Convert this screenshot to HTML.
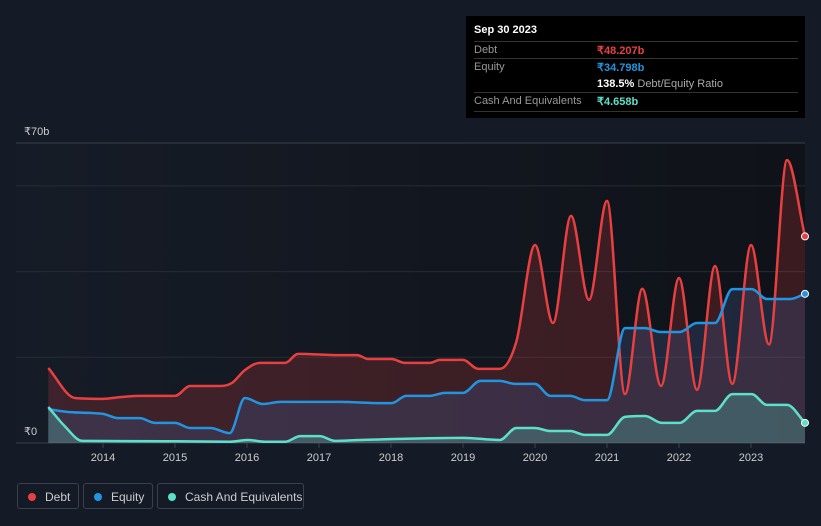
<!DOCTYPE html>
<html><head><meta charset="utf-8"><style>
body{margin:0;width:821px;height:526px;background:#151b26;font-family:"Liberation Sans",sans-serif;overflow:hidden;position:relative}
#tip{position:absolute;left:466px;top:16px;width:339px;height:102px;background:#000;color:#fff;font-size:11px}
.row{position:absolute;left:8px;width:324px;border-top:1px solid #333}
.lbl{position:absolute;left:0;color:#999}
.val{position:absolute;left:123px;font-weight:bold}
.leg{position:absolute;top:483px;height:26px;border:1px solid #3a404c;border-radius:3px;color:#ccc;font-size:12px;line-height:26px;box-sizing:border-box}
.dot{position:absolute;left:10px;top:9px;width:8px;height:8px;border-radius:50%}
</style></head><body>
<svg id="chart" width="821" height="526" style="position:absolute;left:0;top:0">
<defs>
<linearGradient id="bg" x1="0" x2="1" y1="0" y2="0"><stop offset="0" stop-color="#161c27"/><stop offset="1" stop-color="#0f1218"/></linearGradient>
</defs>
<rect x="16" y="143" width="789" height="300" fill="url(#bg)"/>
<g id="grid"></g><g id="areas"></g><g id="lines"></g><g id="axis"></g>
</svg>
<div id="tip">
<div style="position:absolute;left:8px;top:8px;font-weight:bold;font-size:11px">Sep 30 2023</div>
<div class="row" style="top:25px;height:17px"><span class="lbl" style="top:2px">Debt</span><span class="val" style="top:2px;color:#e84040">₹48.207b</span></div>
<div class="row" style="top:42px;height:34px"><span class="lbl" style="top:2px">Equity</span><span class="val" style="top:2px;color:#2394df">₹34.798b</span><span class="val" style="top:19px"><b>138.5%</b> <span style="color:#aaa;font-weight:normal">Debt/Equity Ratio</span></span></div>
<div class="row" style="top:76px;height:18px;border-bottom:1px solid #333"><span class="lbl" style="top:2px">Cash And Equivalents</span><span class="val" style="top:2px;color:#5de0c8">₹4.658b</span></div>
</div>
<div class="leg" style="left:17px;width:62px"><span class="dot" style="background:#e84040"></span><span style="position:absolute;left:27px">Debt</span></div>
<div class="leg" style="left:83px;width:70px"><span class="dot" style="background:#2394df"></span><span style="position:absolute;left:27px">Equity</span></div>
<div class="leg" style="left:157px;width:147px"><span class="dot" style="background:#5de0c8"></span><span style="position:absolute;left:27px">Cash And Equivalents</span></div>
<script>
const debtT=[2013.24,2013.61,2014.0,2014.24,2014.51,2015.0,2015.21,2015.63,2015.79,2015.97,2016.18,2016.53,2016.71,2017.29,2017.53,2017.68,2018.01,2018.19,2018.54,2018.68,2019.0,2019.21,2019.51,2019.74,2020.0,2020.25,2020.5,2020.75,2021.0,2021.25,2021.49,2021.75,2022.0,2022.25,2022.5,2022.74,2023.0,2023.25,2023.5,2023.75];
const debtV=[17.5,10.5,10.3,10.7,11,11,13.3,13.3,14,17,18.7,18.7,20.8,20.5,20.5,19.6,19.6,18.7,18.7,19.4,19.4,17.3,17.3,23.6,46.2,28,53,33.4,56.5,11.4,36,13.3,38.5,12.4,41.3,13.8,46.2,23,66,48.2];
const eqT=[2013.24,2013.54,2014.0,2014.21,2014.51,2014.72,2015.0,2015.21,2015.49,2015.76,2015.97,2016.22,2016.46,2017.29,2017.85,2018.01,2018.21,2018.54,2018.75,2019.0,2019.24,2019.51,2019.72,2020.0,2020.21,2020.49,2020.69,2021.0,2021.25,2021.53,2021.74,2022.01,2022.25,2022.5,2022.74,2023.01,2023.22,2023.54,2023.75];
const eqV=[7.9,7.2,6.8,5.8,5.8,4.7,4.7,3.5,3.5,2.3,10.5,9.1,9.6,9.6,9.3,9.3,11,11,11.7,11.7,14.5,14.5,13.8,13.8,11,11,10,10,26.8,26.8,25.9,25.9,28,28,35.9,35.9,33.6,33.6,34.8];
const cashT=[2013.24,2013.47,2013.71,2015.0,2015.76,2016.01,2016.25,2016.53,2016.74,2017.01,2017.22,2017.57,2019.0,2019.51,2019.74,2020.0,2020.21,2020.49,2020.69,2021.0,2021.25,2021.53,2021.76,2022.01,2022.25,2022.5,2022.74,2023.01,2023.22,2023.5,2023.75];
const cashV=[8.4,3.9,0.5,0.4,0.3,0.7,0.3,0.3,1.6,1.6,0.5,0.7,1.2,0.7,3.5,3.5,2.8,2.8,1.9,1.9,6.1,6.3,4.7,4.7,7.5,7.5,11.4,11.4,8.9,8.9,4.7];
const yTicks=[0,20,40,60,70];
const yTickLabels={0:"₹0",70:"₹70b"};
const years=[2014,2015,2016,2017,2018,2019,2020,2021,2022,2023];
const X=t=>103+(t-2014)*72, Y=v=>443-v*300/70;
const NS="http://www.w3.org/2000/svg";
function mk(tag,attrs,parent){const e=document.createElementNS(NS,tag);for(const k in attrs)e.setAttribute(k,attrs[k]);parent.appendChild(e);return e;}
function path(T,V){const xs=T.map(X),ys=V.map(Y),n=xs.length;const d=[],m=[];
for(let i=0;i<n-1;i++)d.push((ys[i+1]-ys[i])/(xs[i+1]-xs[i]));
m[0]=d[0];m[n-1]=d[n-2];for(let i=1;i<n-1;i++)m[i]=d[i-1]*d[i]<=0?0:(d[i-1]+d[i])/2;
for(let i=0;i<n-1;i++){if(d[i]==0){m[i]=0;m[i+1]=0;continue;}const a=m[i]/d[i],b=m[i+1]/d[i],s=a*a+b*b;if(s>9){const t=3/Math.sqrt(s);m[i]=t*a*d[i];m[i+1]=t*b*d[i];}}
let p=`M${xs[0]},${ys[0]}`;for(let i=0;i<n-1;i++){const h=(xs[i+1]-xs[i])/3;p+=`C${xs[i]+h},${ys[i]+m[i]*h} ${xs[i+1]-h},${ys[i+1]-m[i+1]*h} ${xs[i+1]},${ys[i+1]}`;}return p;}
const grid=document.getElementById('grid'),axis=document.getElementById('axis'),areas=document.getElementById('areas'),lines=document.getElementById('lines');
yTicks.forEach(v=>{const g=mk('line',{x1:16,x2:805,y1:Y(v),y2:Y(v),stroke:v==70||v==0?'#3a3f48':'#262b34','stroke-width':1},grid);


if(yTickLabels[v]){const t=mk('text',{x:24,y:Y(v)-8,fill:'#ccc','font-size':11},axis);t.textContent=yTickLabels[v];

}});
years.forEach(y=>{const l=mk('line',{x1:X(y),x2:X(y),y1:443,y2:448,stroke:'#3a3f48'},axis);


const t=mk('text',{x:X(y),y:461,fill:'#ccc','font-size':11,'text-anchor':'middle'},axis);t.textContent=y;

});
const series=[[debtT,debtV,'#e84040','rgba(232,64,64,0.2)','debt'],[eqT,eqV,'#2394df','rgba(60,80,130,0.35)','equity'],[cashT,cashV,'#5de0c8','rgba(93,224,200,0.25)','cash']];
series.forEach(([T,V,c,f,n])=>{const p=path(T,V);
const a=mk('path',{d:p+`L${X(T[T.length-1])},443L${X(T[0])},443Z`,fill:f},areas);


const l=mk('path',{d:p,fill:'none',stroke:c,'stroke-width':2.5},lines);


const e=mk('circle',{cx:X(T[T.length-1]),cy:Y(V[V.length-1]),r:3.5,fill:c,stroke:'#fff','stroke-width':1},lines);

});
</script>
</body></html>
